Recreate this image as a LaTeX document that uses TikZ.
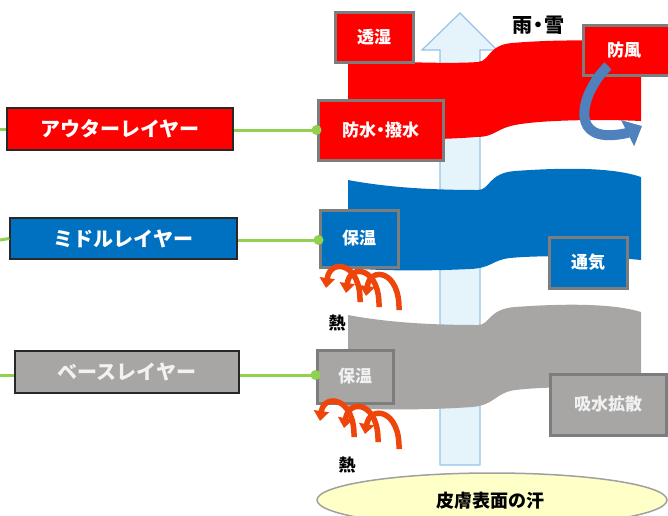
\documentclass[tikz,border=0pt]{standalone}
\usepackage{fontspec}
\setmainfont{Noto Sans CJK JP}
\usetikzlibrary{arrows.meta,shapes.geometric}
\definecolor{outred}{RGB}{255,0,0}
\definecolor{midblue}{RGB}{0,112,192}
\definecolor{basegray}{RGB}{168,165,165}
\definecolor{bordergray}{RGB}{125,125,125}
\definecolor{lgreen}{RGB}{146,208,80}
\definecolor{heatcol}{RGB}{238,70,10}
\definecolor{windblue}{RGB}{79,129,189}
\definecolor{arrowfill}{RGB}{228,244,250}
\definecolor{arrowedge}{RGB}{150,195,230}
\definecolor{skin}{RGB}{255,255,200}
\tikzset{
  lbox/.style={draw={rgb,255:red,40;green,40;blue,40}, line width=1.2pt, inner sep=0pt,
    text=white, font=\fontsize{20}{24}\selectfont\bfseries},
  fbox/.style={draw=bordergray, line width=3pt, inner sep=0pt,
    text=white, font=\fontsize{17}{20}\selectfont\bfseries},
  gline/.style={draw=lgreen, line width=3pt},
  heat/.style={draw=heatcol, line width=5.5pt, -{Triangle[width=15pt,length=10pt]}},
  plain/.style={font=\fontsize{17}{20}\selectfont\bfseries, text=black, inner sep=0pt}
}
\begin{document}
\begin{tikzpicture}[x=1pt,y=-1pt]
\useasboundingbox (0,0) rectangle (668,515);
\begin{scope}
\clip (0,0) rectangle (668,515);
% upward arrow (behind layers)
\draw[fill=arrowfill, draw=arrowedge, line width=1.2pt]
  (440,465) -- (440,50) -- (422,50) -- (460,13) -- (497,50) -- (480,50) -- (480,465) -- cycle;
% red layer
\fill[outred] (348,60) .. controls (400,62) and (450,64) .. (478,62)
  .. controls (490,61) and (488,45) .. (512,43)
  .. controls (560,39) and (610,40) .. (641,44) -- (641,121)
  .. controls (600,119) and (540,120) .. (515,125)
  .. controls (495,129) and (495,137) .. (476,137)
  .. controls (440,140) and (390,140) .. (348,138) -- cycle;
% blue layer
\fill[midblue] (348,180) .. controls (380,186) and (420,190) .. (478,190)
  .. controls (490,190) and (488,173) .. (515,171)
  .. controls (570,167) and (615,168) .. (641,177) -- (641,260)
  .. controls (600,256) and (540,255) .. (510,258)
  .. controls (492,260) and (492,268) .. (470,269)
  .. controls (430,271) and (380,271) .. (348,268) -- cycle;
% gray layer
\fill[basegray] (348,315) .. controls (380,321) and (420,325) .. (478,325)
  .. controls (490,325) and (488,309) .. (515,307)
  .. controls (570,303) and (615,304) .. (641,312) -- (641,388)
  .. controls (600,387) and (550,386) .. (515,390)
  .. controls (495,393) and (495,405) .. (472,407)
  .. controls (430,410) and (380,410) .. (348,408) -- cycle;
% skin ellipse
\node[draw={rgb,255:red,160;green,160;blue,160}, line width=1.5pt, fill=skin, ellipse,
  minimum width=350pt, minimum height=54pt, inner sep=0pt] (skin) at (492,500) {};
\node[plain, font=\fontsize{18}{20}\selectfont\bfseries] (skint) at (490,501) {皮膚表面の汗};
% left labels
\node[lbox, fill=outred, minimum width=226pt, minimum height=42pt] (lo) at (120,129) {アウターレイヤー};
\node[lbox, fill=midblue, minimum width=227pt, minimum height=41pt] (lm) at (123.5,238.5) {ミドルレイヤー};
\node[lbox, fill=basegray, text={rgb,255:red,242;green,242;blue,242}, minimum width=224pt, minimum height=42pt] (lb) at (127,372) {ベースレイヤー};
% function boxes
\node[fbox, fill=outred, minimum width=78pt, minimum height=50pt] (tos) at (374,37) {透湿};
\node[fbox, fill=outred, minimum width=88pt, minimum height=50pt] (bof) at (627,50) {\hspace*{-6pt}防風};
\node[fbox, fill=outred, minimum width=125pt, minimum height=60pt] (pw) at (380.5,130) {防水{\kern-4pt}・{\kern-4pt}撥水};
\node[fbox, fill=midblue, minimum width=78pt, minimum height=57pt] (hm) at (359,238.5) {保温};
\node[fbox, fill=midblue, minimum width=78pt, minimum height=51pt] (tk) at (588,262.5) {通気};
\node[fbox, fill=basegray, text={rgb,255:red,240;green,240;blue,240}, minimum width=76pt, minimum height=53pt] (hb) at (355,376.5) {保温};
\node[fbox, fill=basegray, text={rgb,255:red,240;green,240;blue,240}, minimum width=116pt, minimum height=61pt] (kk) at (608,404.5) {吸水拡散};
% rain/snow
\node[plain, font=\fontsize{20}{22}\selectfont\bfseries] (rain) at (538,25) {雨{\kern-4pt}・{\kern-4pt}雪};
% wind arrow
\draw[windblue, line width=10pt, -{Triangle[width=28pt,length=16pt]}]
  (608,66) .. controls (585,88) and (570,132) .. (605,135)
  .. controls (618,136) and (630,132) .. (642,126);
% green connectors
\coordinate (s1) at (0,129);
\coordinate (s2) at (0,240);
\coordinate (s3) at (0,375);
\draw[gline] (s1) -- (lo.west);
\draw[gline] (s2) -- (lm.west);
\draw[gline] (s3) -- (lb.west |- s3);
\draw[gline] (lo.east |- pw.west) -- (pw.west);
\draw[gline] (lm.east |- s2) -- (hm.west |- s2);
\draw[gline] (lb.east |- s3) -- (hb.west |- s3);
\fill[lgreen] (pw.west) circle (5);
\fill[lgreen] (hm.west |- s2) circle (5);
\fill[lgreen] (hb.west |- s3) circle (5);
% heat swirls
\draw[heat] (360,302) .. controls (361,262) and (330,258) .. (326,288);
\draw[heat] (379,307) .. controls (380,267) and (350,263) .. (346,293);
\draw[heat] (399,310) .. controls (400,270) and (370,266) .. (366,296);
\draw[heat] (354,437) .. controls (355,397) and (324,393) .. (320,421);
\draw[heat] (378,442) .. controls (379,402) and (349,398) .. (344,428);
\draw[heat] (399,449) .. controls (400,409) and (370,405) .. (365,434);
\node[plain] (h1) at (337,323) {熱};
\node[plain] (h2) at (347,465) {熱};
\end{scope}
\end{tikzpicture}
\end{document}
